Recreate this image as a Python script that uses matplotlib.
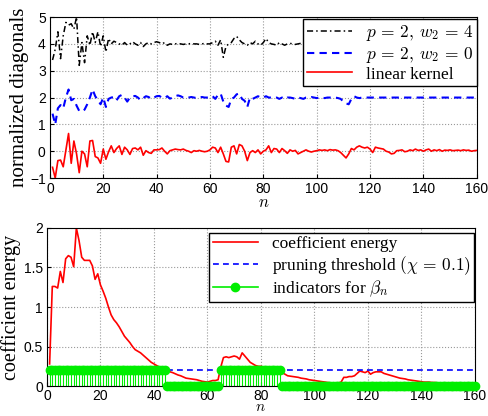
import numpy as np
import matplotlib
matplotlib.use("Agg")
import matplotlib.pyplot as plt

plt.rcParams['font.family'] = ['Liberation Serif', 'DejaVu Serif']
plt.rcParams['mathtext.fontset'] = 'cm'

# n = 1..160
n = np.arange(1, 161)

# normalized diagonals
black_diag = [3.4, 3.8, 4.45, 3.45, 4.3, 4.8, 4.7, 4.75, 4.55, 5.0, 3.2, 4.05, 3.3, 4.3, 3.95, 4.45, 4.05, 4.45, 3.9, 4.3,
              3.7, 4.2, 4.0, 4.1, 4.05, 4.0, 3.95, 4.05, 3.95, 4.0, 4.08, 4.0, 3.95, 4.05, 3.9, 4.0, 4.05, 4.0, 4.05, 4.08,
              4.05, 4.0, 4.05, 3.95, 4.0, 3.98, 4.0, 4.02, 4.0, 3.98, 4.0, 4.0, 4.02, 4.0, 4.0, 3.98, 4.0, 4.02, 4.0, 4.0,
              4.05, 4.1, 3.95, 4.15, 3.5, 3.9, 4.0, 4.05, 4.2, 4.28, 4.15, 4.05, 4.0, 3.95, 4.05, 4.0, 4.1, 4.0, 3.95, 4.05,
              4.2, 4.05, 4.0, 3.98, 3.95, 4.05, 4.0, 3.95, 4.0, 4.02, 4.0, 3.98, 4.0, 4.02, 4.0, 4.0, 3.98, 4.0, 4.0, 4.02,
              4.0, 4.0, 3.98, 4.0, 4.0, 4.0, 4.02, 4.0, 3.98, 4.0, 3.95, 3.9, 4.05, 4.0, 4.0, 4.02, 4.0, 4.0, 3.98, 4.0,
              4.0, 4.0, 4.0, 4.02, 4.0, 4.0, 4.0, 3.98, 4.0, 4.0, 4.0, 4.0, 4.0, 4.0, 4.0, 4.0, 4.0, 4.0, 4.0, 4.0,
              4.0, 4.0, 4.0, 4.0, 4.0, 4.0, 4.0, 4.0, 4.0, 4.0, 4.0, 4.0, 4.0, 4.0, 4.0, 4.0, 4.0, 4.0, 4.0, 4.0]
blue_diag = [1.4, 1.0, 1.6, 1.72, 1.6, 2.0, 2.3, 1.9, 1.95, 1.7, 1.5, 1.48, 1.55, 1.75, 2.0, 2.3, 2.05, 1.9, 1.75, 2.0,
             1.65, 1.95, 2.0, 2.02, 1.9, 2.05, 2.1, 2.0, 1.85, 2.0, 2.05, 2.06, 2.0, 1.9, 1.98, 2.05, 2.02, 1.95, 2.0, 2.05,
             2.06, 2.0, 1.98, 2.05, 1.96, 2.0, 2.05, 2.08, 2.05, 2.0, 1.98, 2.0, 2.02, 2.0, 1.98, 2.0, 2.02, 2.0, 2.0, 2.0,
             2.05, 1.95, 2.1, 2.15, 1.85, 1.7, 1.65, 1.95, 2.0, 2.12, 2.15, 1.95, 1.88, 1.65, 2.0, 1.95, 2.0, 2.05, 2.0, 2.0,
             2.05, 2.0, 2.0, 1.98, 2.0, 1.95, 2.0, 1.95, 2.0, 2.0, 1.98, 1.95, 2.0, 1.98, 1.95, 2.0, 2.0, 2.02, 2.0, 1.98,
             2.0, 2.0, 1.98, 2.0, 2.0, 2.0, 2.0, 1.98, 1.95, 1.85, 1.78, 1.75, 1.95, 2.05, 2.0, 1.98, 2.0, 2.0, 2.0, 2.0,
             2.0, 2.0, 2.0, 2.0, 2.0, 2.0, 2.0, 2.0, 2.0, 2.0, 2.0, 2.0, 2.0, 2.0, 2.0, 2.0, 2.0, 2.0, 2.0, 2.0,
             2.0, 2.0, 2.0, 2.0, 2.0, 2.0, 2.0, 2.0, 2.0, 2.0, 2.0, 2.0, 2.0, 2.0, 2.0, 2.0, 2.0, 2.0, 2.0, 2.0]
red_diag = [-0.6, -1.0, -0.35, -0.33, -0.58, 0.05, 0.66, -0.45, 0.38, -0.1, -0.8, 0.0, -0.1, -0.58, 0.38, 0.4, -0.2, -0.25, -0.45, 0.08,
            -0.3, -0.02, 0.2, -0.05, 0.1, 0.2, -0.12, 0.15, 0.05, -0.12, 0.1, 0.12, 0.05, 0.15, -0.15, 0.02, -0.05, -0.08, 0.05, 0.05,
            0.06, 0.12, 0.0, -0.1, 0.02, 0.05, 0.08, 0.06, 0.05, 0.08, 0.03, 0.0, -0.05, 0.02, 0.0, 0.03, 0.0, -0.02, 0.0, 0.05,
            0.15, 0.12, -0.05, 0.15, -0.1, -0.38, -0.4, 0.15, 0.2, -0.1, 0.25, 0.2, 0.0, -0.35, -0.05, 0.02, -0.05, 0.05, -0.1, 0.0,
            0.05, 0.2, -0.05, 0.1, 0.08, -0.05, 0.1, 0.02, -0.08, 0.05, 0.0, 0.03, -0.1, -0.05, 0.0, 0.05, 0.0, -0.03, 0.0, 0.02,
            0.05, 0.03, 0.05, 0.02, 0.06, 0.04, 0.05, 0.02, -0.05, -0.15, -0.25, -0.1, 0.1, 0.05, 0.15, 0.2, 0.15, 0.12, 0.15, 0.08,
            -0.05, 0.15, 0.12, 0.1, 0.08, 0.0, -0.03, -0.1, -0.08, 0.02, 0.03, 0.05, -0.02, 0.0, 0.05, 0.02, 0.08, 0.03, 0.05, 0.0,
            0.05, 0.08, 0.0, 0.05, 0.02, 0.06, 0.0, 0.04, 0.03, 0.05, 0.02, 0.03, 0.04, 0.02, 0.05, 0.03, 0.04, 0.0, 0.02, 0.03]

# coefficient energy
energy = [0.28, 1.26, 1.26, 1.24, 1.45, 1.31, 1.61, 1.65, 1.63, 1.51, 2.0, 1.84, 1.63, 1.59, 1.59, 1.59, 1.52, 1.35, 1.42, 1.28,
          1.2, 1.11, 1.0, 0.9, 0.84, 0.8, 0.75, 0.69, 0.63, 0.59, 0.55, 0.5, 0.46, 0.44, 0.42, 0.39, 0.36, 0.33, 0.3, 0.28,
          0.26, 0.24, 0.23, 0.22, 0.21, 0.18, 0.17, 0.155, 0.14, 0.13, 0.115, 0.1, 0.095, 0.09, 0.085, 0.08, 0.07, 0.06, 0.055, 0.05,
          0.06, 0.07, 0.07, 0.08, 0.24, 0.36, 0.37, 0.36, 0.37, 0.38, 0.37, 0.34, 0.42, 0.38, 0.34, 0.3, 0.28, 0.26, 0.25, 0.25,
          0.24, 0.24, 0.23, 0.22, 0.21, 0.2, 0.19, 0.17, 0.15, 0.13, 0.125, 0.12, 0.115, 0.11, 0.1, 0.095, 0.09, 0.08, 0.075, 0.07,
          0.065, 0.06, 0.055, 0.05, 0.045, 0.04, 0.04, 0.04, 0.04, 0.05, 0.11, 0.11, 0.12, 0.12, 0.13, 0.16, 0.19, 0.18, 0.17, 0.19,
          0.15, 0.17, 0.18, 0.18, 0.18, 0.16, 0.15, 0.14, 0.13, 0.12, 0.11, 0.1, 0.095, 0.09, 0.08, 0.075, 0.07, 0.065, 0.06, 0.055,
          0.05, 0.05, 0.05, 0.045, 0.045, 0.04, 0.04, 0.04, 0.035, 0.035, 0.03, 0.03, 0.03, 0.025, 0.025, 0.025, 0.02, 0.02, 0.02, 0.02]
threshold = 0.2
# beta_n indicators (kept = 0.2, pruned = 0)
indicators = [0.2] * 44 + [0.0] * 20 + [0.2] * 23 + [0.0] * 73

fig = plt.figure(figsize=(4.89, 4.16), dpi=100)
ax1 = fig.add_axes([0.102, 0.572, 0.873, 0.387])
ax2 = fig.add_axes([0.096, 0.072, 0.875, 0.380])

def style(ax, pad=3):
    ax.grid(True, linestyle=':', color='#999999', linewidth=0.8)
    ax.tick_params(direction='in', labelsize=10, length=3, pad=3)
    ax.tick_params(axis='x', pad=pad)
    for lab in ax.get_xticklabels() + ax.get_yticklabels():
        lab.set_family('Liberation Sans')
    for s in ax.spines.values():
        s.set_linewidth(0.8)

# top plot
ax1.plot(n, black_diag, color='black', linestyle=(0, (4, 2, 1, 2)), linewidth=1.1, label=r'$p\,=\,2,\,w_2\,=\,4$')
ax1.plot(n, blue_diag, color='blue', linestyle=(0, (3.5, 2.5)), linewidth=1.5, label=r'$p\,=\,2,\,w_2\,=\,0$')
ax1.plot(n, red_diag, color='red', linewidth=1.2, label='linear kernel')
ax1.set_xlim(0, 160)
ax1.set_ylim(-1, 5)
ax1.set_xticks(np.arange(0, 161, 20))
ax1.set_yticks(np.arange(-1, 6, 1))
style(ax1)
ax1.set_ylabel('normalized diagonals', fontsize=15, labelpad=1)
ax1.set_xlabel('$n$', fontsize=12, labelpad=-1)
leg1 = ax1.legend(loc='upper right', bbox_to_anchor=(1.0, 0.985), fontsize=12.5, fancybox=False,
                  edgecolor='black', framealpha=1, handlelength=2.6, borderpad=0.2, labelspacing=0.1,
                  handletextpad=0.8, borderaxespad=0.0)
leg1.get_frame().set_linewidth(1.0)

# bottom plot
ax2.plot(n, energy, color='red', linewidth=1.2, label='coefficient energy')
ax2.plot([0, 160], [threshold, threshold], color='blue', linestyle=(0, (3.5, 2.5)), linewidth=1.2,
         label=r'pruning threshold $(\chi\,=\,0.1)$')
ml, sl, bl = ax2.stem(n, indicators, linefmt='-', markerfmt='o', basefmt=' ')
plt.setp(sl, color='#00ee00', linewidth=0.8)
plt.setp(ml, color='#00ee00', markersize=6, clip_on=False, zorder=4)
bl.set_visible(False)
ax2.plot([], [], color='#00ee00', marker='o', markersize=6, linewidth=1.2, label=r'indicators for $\beta_n$')
ax2.set_xlim(0, 160)
ax2.set_ylim(0, 2)
ax2.set_xticks(np.arange(0, 161, 20))
ax2.set_yticks([0, 0.5, 1, 1.5, 2])
ax2.set_yticklabels(['0', '0.5', '1', '1.5', '2'])
style(ax2, pad=2)
ax2.set_ylabel('coefficient energy', fontsize=14.5, labelpad=2)
ax2.set_xlabel('$n$', fontsize=11, labelpad=-1)
leg2 = ax2.legend(loc='upper right', bbox_to_anchor=(0.998, 0.97), fontsize=12.5, fancybox=False,
                  edgecolor='black', framealpha=1, handlelength=2.6, borderpad=0.2, labelspacing=0.1,
                  handletextpad=0.8, borderaxespad=0.0)
leg2.get_frame().set_linewidth(1.0)

fig.savefig('out.png', dpi=100)
